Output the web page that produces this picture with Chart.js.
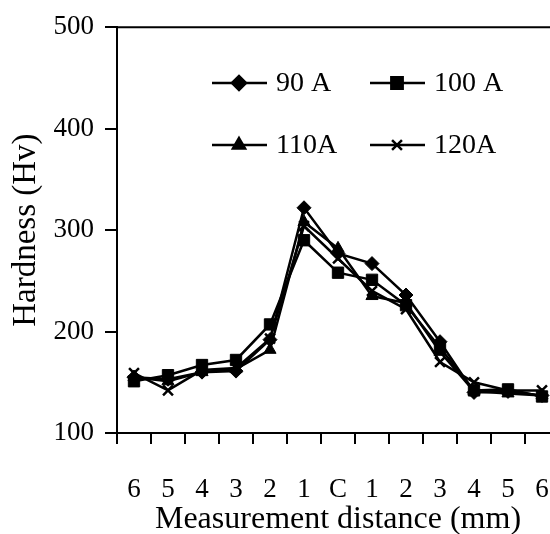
<!DOCTYPE html>
<html>
<head>
<meta charset="utf-8">
<script src="https://cdn.jsdelivr.net/npm/chart.js@4.4.1/dist/chart.umd.min.js"></script>
<style>
  html, body { margin: 0; padding: 0; background: #fff; overflow: hidden; }
  #wrap { width: 570px; height: 534px; }
</style>
</head>
<body>
<div id="wrap"><canvas id="chart" width="570" height="534"></canvas></div>
<script>
// ---------- DATA ----------
const distances = ["6", "5", "4", "3", "2", "1", "C", "1", "2", "3", "4", "5", "6"];
const hv90 = [155, 153, 160, 161, 192, 322, 277, 267, 236, 190, 140, 141, 137];
const hv100 = [151, 157, 167, 172, 207, 290, 258, 251, 226, 184, 142, 143, 136];
const hv110 = [155, 151, 160, 163, 182, 308, 282, 235, 228, 180, 141, 139, 137];
const hv120 = [159, 142, 162, 164, 193, 304, 272, 240, 222, 170, 150, 142, 142];
const yTicks = [100, 200, 300, 400, 500];

const FONT = "'Liberation Serif', 'Times New Roman', serif";
Chart.defaults.font.family = FONT;
Chart.defaults.color = "#000";

const series = (label, data, style, r) => ({
  label, data,
  borderColor: "#000", backgroundColor: "#000",
  borderWidth: 2.5,
  pointStyle: style, pointRadius: r, pointHoverRadius: r,
  pointBorderWidth: style === "crossRot" ? 2.5 : 1,
  tension: 0
});

// legend inside the plot, two columns
const insideLegend = {
  id: "insideLegend",
  afterDraw(chart) {
    const ctx = chart.ctx;
    const spots = [[212, 83], [370, 83], [212, 145], [370, 145]];
    ctx.save();
    chart.data.datasets.forEach((ds, i) => {
      const [x, y] = spots[i];
      ctx.strokeStyle = "#000";
      ctx.lineWidth = 2.5;
      ctx.beginPath();
      ctx.moveTo(x, y);
      ctx.lineTo(x + 55, y);
      ctx.stroke();
      ctx.fillStyle = "#000";
      Chart.helpers.drawPoint(ctx, {
        pointStyle: ds.pointStyle, radius: ds.pointRadius,
        rotation: 0, borderWidth: ds.pointBorderWidth
      }, x + 27, y);
      ctx.fillStyle = "#000";
      ctx.font = "28px " + FONT;
      ctx.textBaseline = "middle";
      ctx.fillText(ds.label, x + 64, y + 1);
    });
    // top frame line
    const a = chart.chartArea;
    ctx.beginPath();
    ctx.lineWidth = 2;
    ctx.moveTo(a.left, a.top);
    ctx.lineTo(chart.width, a.top);
    ctx.stroke();
    ctx.restore();
  }
};

new Chart(document.getElementById("chart"), {
  type: "line",
  data: {
    labels: distances,
    datasets: [
      series("90 A", hv90, "rectRot", 7),
      series("100 A", hv100, "rect", 8),
      series("110A", hv110, "triangle", 7),
      series("120A", hv120, "crossRot", 7)
    ]
  },
  options: {
    responsive: false,
    animation: false,
    layout: { padding: { top: 18, right: 11, left: 0, bottom: 0 } },
    plugins: { legend: { display: false }, tooltip: { enabled: false } },
    scales: {
      x: {
        offset: true,
        grid: { offset: true, drawOnChartArea: false, color: "#000", lineWidth: 2, tickLength: 11 },
        border: { color: "#000", width: 2 },
        ticks: { font: { size: 27 }, padding: 30, maxRotation: 0, autoSkip: false },
        title: { display: true, text: "Measurement distance (mm)", font: { size: 32, lineHeight: 0.9 }, padding: 0 },
        afterFit: s => { s.height = 101; s.paddingLeft = 0; s.paddingRight = 0; }
      },
      y: {
        min: 100, max: 500,
        afterBuildTicks: s => { s.ticks = yTicks.map(v => ({ value: v })); },
        grid: { drawOnChartArea: false, color: "#000", lineWidth: 2, tickLength: 12 },
        border: { color: "#000", width: 2 },
        ticks: { font: { size: 27 }, padding: 11 },
        title: { display: true, text: "Hardness (Hv)", font: { size: 33, lineHeight: 1 }, padding: { top: 10, bottom: 0 } },
        afterFit: s => { s.width = 117; }
      }
    }
  },
  plugins: [insideLegend]
});
</script>
</body>
</html>
